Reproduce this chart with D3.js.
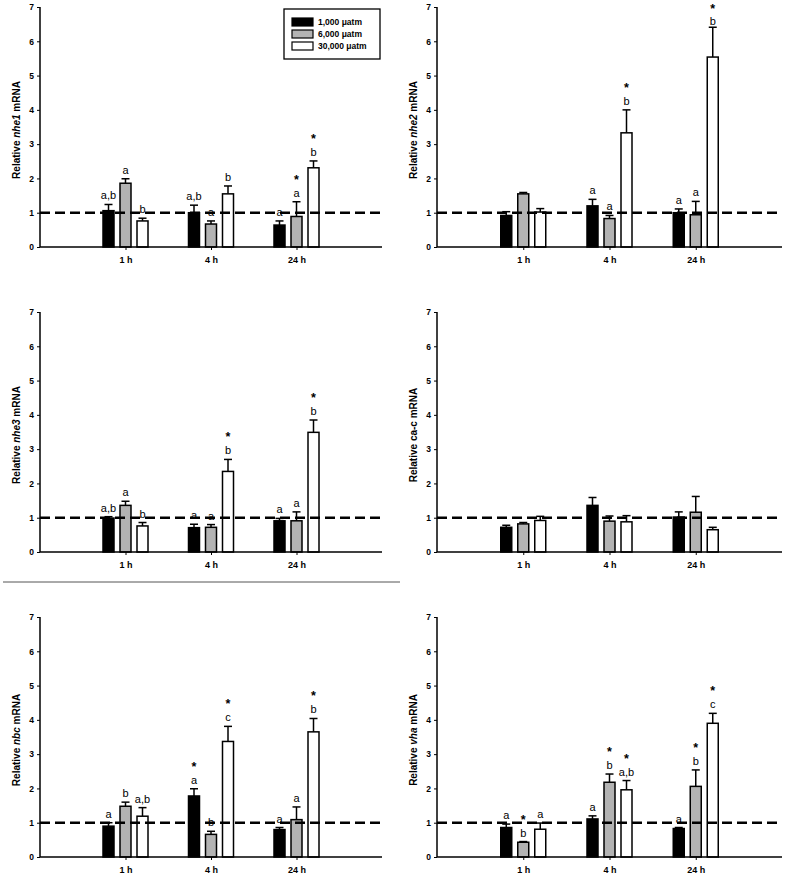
<!DOCTYPE html>
<html>
<head>
<meta charset="utf-8">
<script src="https://cdn.jsdelivr.net/npm/d3@7"></script>
<style>
  html, body { margin: 0; padding: 0; background: #fff; }
  svg { display: block; }
  text { font-family: Arial, "Liberation Sans", sans-serif; fill: #000; }
</style>
</head>
<body>
<svg id="chart" width="787" height="879"></svg>
<script>
// ---------- data ----------
const groups = ["1 h", "4 h", "24 h"];
const series = ["1,000 \u03bcatm", "6,000 \u03bcatm", "30,000 \u03bcatm"];
const yTicks = [0, 1, 2, 3, 4, 5, 6, 7];

// rows = time groups, columns = series
const nhe1Mean = [[1.06, 1.86, 0.76], [1.00, 0.67, 1.55], [0.64, 0.89, 2.31]];
const nhe1Err  = [[0.18, 0.13, 0.08], [0.22, 0.09, 0.23], [0.12, 0.43, 0.20]];
const nhe1Let  = [["a,b", "a", "b"], ["a,b", "a", "b"], ["a", "a", "b"]];
const nhe1Star = [[0, 0, 0], [0, 0, 0], [0, 1, 1]];

const nhe2Mean = [[0.92, 1.55, 1.02], [1.20, 0.83, 3.33], [1.00, 0.94, 5.54]];
const nhe2Err  = [[0.11, 0.04, 0.10], [0.19, 0.09, 0.67], [0.11, 0.39, 0.87]];
const nhe2Let  = [["", "", ""], ["a", "a", "b"], ["a", "a", "b"]];
const nhe2Star = [[0, 0, 0], [0, 0, 1], [0, 0, 1]];

const nhe3Mean = [[0.99, 1.36, 0.76], [0.71, 0.72, 2.35], [0.91, 0.91, 3.49]];
const nhe3Err  = [[0.04, 0.12, 0.10], [0.10, 0.08, 0.35], [0.07, 0.26, 0.36]];
const nhe3Let  = [["a,b", "a", "b"], ["a", "a", "b"], ["a", "a", "b"]];
const nhe3Star = [[0, 0, 0], [0, 0, 1], [0, 0, 1]];

const cacMean = [[0.72, 0.82, 0.92], [1.36, 0.90, 0.88], [1.02, 1.16, 0.65]];
const cacErr  = [[0.06, 0.04, 0.12], [0.23, 0.15, 0.18], [0.15, 0.46, 0.07]];
const cacLet  = [["", "", ""], ["", "", ""], ["", "", ""]];
const cacStar = [[0, 0, 0], [0, 0, 0], [0, 0, 0]];

const nbcMean = [[0.90, 1.48, 1.19], [1.78, 0.66, 3.37], [0.80, 1.09, 3.65]];
const nbcErr  = [[0.10, 0.12, 0.25], [0.21, 0.09, 0.44], [0.06, 0.37, 0.39]];
const nbcLet  = [["a", "b", "a,b"], ["a", "b", "c"], ["a", "a", "b"]];
const nbcStar = [[0, 0, 0], [1, 0, 1], [0, 0, 1]];

const vhaMean = [[0.86, 0.43, 0.81], [1.11, 2.18, 1.96], [0.83, 2.06, 3.90]];
const vhaErr  = [[0.10, 0.02, 0.18], [0.09, 0.24, 0.27], [0.03, 0.48, 0.29]];
const vhaLet  = [["a", "b", "a"], ["a", "b", "a,b"], ["a", "b", "c"]];
const vhaStar = [[0, 1, 0], [0, 1, 1], [0, 1, 1]];

const panels = [
  { gene: "nhe1", italic: true,  mean: nhe1Mean, err: nhe1Err, lets: nhe1Let, stars: nhe1Star, col: 0, row: 0, legend: true },
  { gene: "nhe2", italic: true,  mean: nhe2Mean, err: nhe2Err, lets: nhe2Let, stars: nhe2Star, col: 1, row: 0 },
  { gene: "nhe3", italic: true,  mean: nhe3Mean, err: nhe3Err, lets: nhe3Let, stars: nhe3Star, col: 0, row: 1 },
  { gene: "ca-c", italic: false, mean: cacMean,  err: cacErr,  lets: cacLet,  stars: cacStar,  col: 1, row: 1 },
  { gene: "nbc",  italic: true,  mean: nbcMean,  err: nbcErr,  lets: nbcLet,  stars: nbcStar,  col: 0, row: 2 },
  { gene: "vha",  italic: true,  mean: vhaMean,  err: vhaErr,  lets: vhaLet,  stars: vhaStar,  col: 1, row: 2 }
];

// ---------- layout ----------
const colX = [[40, 382], [437, 782]];
const rowY = [[7, 247], [312, 552], [617, 857]];
const fills = ["#000000", "#b3b3b3", "#ffffff"];
const FONT = "Arial, 'Liberation Sans', sans-serif";

const svg = d3.select("#chart");

const xSeries = d3.scaleBand().domain(series).range([-22.5, 22.5]).paddingInner(6 / 17);

panels.forEach(p => {
  const [x0, x1] = colX[p.col];
  const [yTop, yBot] = rowY[p.row];
  const x = d3.scaleLinear().domain([0, 4]).range([x0, x1]);
  const y = d3.scaleLinear().domain([0, 7]).range([yBot, yTop]);
  const g = svg.append("g");

  const data = [];
  groups.forEach((grp, gi) => {
    series.forEach((s, si) => {
      const d = { gi, si, grp, s, v: p.mean[gi][si], e: p.err[gi][si], l: p.lets[gi][si], st: p.stars[gi][si] };
      const top = y(d.v + d.e);
      d.letY = top - 5;
      d.starY = top - 18;
      if (d.starY < yTop + 5.5) { d.starY = yTop + 5.5; d.letY = top - 2; }
      data.push(d);
    });
  });
  const bx = d => x(d.gi + 1) + xSeries(d.s);
  const cx = d => bx(d) + xSeries.bandwidth() / 2;

  // error bars (upward only)
  g.selectAll(".err").data(data).enter().append("line")
    .attr("x1", cx).attr("x2", cx)
    .attr("y1", d => y(d.v)).attr("y2", d => y(d.v + d.e))
    .attr("stroke", "#000").attr("stroke-width", 1.5);
  g.selectAll(".cap").data(data).enter().append("line")
    .attr("x1", d => cx(d) - 4).attr("x2", d => cx(d) + 4)
    .attr("y1", d => y(d.v + d.e)).attr("y2", d => y(d.v + d.e))
    .attr("stroke", "#000").attr("stroke-width", 1.5);

  // bars
  g.selectAll(".bar").data(data).enter().append("rect")
    .attr("x", bx).attr("width", xSeries.bandwidth())
    .attr("y", d => y(d.v)).attr("height", d => y(0) - y(d.v))
    .attr("fill", d => fills[d.si]).attr("stroke", "#000").attr("stroke-width", 1.5);

  // reference dashed line at 1
  g.append("line")
    .attr("x1", x(0)).attr("x2", x(4)).attr("y1", y(1)).attr("y2", y(1))
    .attr("stroke", "#000").attr("stroke-width", 2.5).attr("stroke-dasharray", "10,5");

  // axes
  const yAxis = d3.axisLeft(y).tickValues(yTicks).tickSize(3).tickPadding(3).tickFormat(d3.format("d"));
  const ya = g.append("g").attr("transform", `translate(${x0},0)`).call(yAxis);
  ya.select(".domain").attr("stroke-width", 1.5).attr("d", `M0,${yTop}V${yBot}`);
  ya.selectAll(".tick line").attr("stroke-width", 1);
  ya.selectAll("text").attr("font-size", 8.5).attr("font-weight", "bold").attr("font-family", FONT);

  const xAxis = d3.axisBottom(x).tickValues([1, 2, 3]).tickSize(3).tickPadding(7).tickFormat(d => groups[d - 1]);
  const xa = g.append("g").attr("transform", `translate(0,${yBot})`).call(xAxis);
  xa.select(".domain").attr("stroke-width", 1.5).attr("d", `M${x0},0H${x1}`);
  xa.selectAll(".tick line").attr("stroke-width", 1);
  xa.selectAll("text").attr("font-size", 9).attr("font-weight", "bold").attr("font-family", FONT);

  // letters and stars
  g.selectAll(".let").data(data.filter(d => d.l)).enter().append("text")
    .attr("x", cx).attr("y", d => d.letY)
    .attr("text-anchor", "middle").attr("font-size", 11).attr("fill", "#000").text(d => d.l);
  g.selectAll(".star").data(data.filter(d => d.st)).enter().append("text")
    .attr("x", cx).attr("y", d => d.starY)
    .attr("text-anchor", "middle").attr("font-size", 12.5).attr("font-weight", "bold").attr("fill", "#000").text("*");

  // y label
  const lbl = g.append("text")
    .attr("transform", `translate(${x0 - 20},${(yTop + yBot) / 2 + 3}) rotate(-90)`)
    .attr("text-anchor", "middle").attr("font-size", 10).attr("font-weight", "bold");
  lbl.append("tspan").text("Relative ");
  lbl.append("tspan").attr("font-style", p.italic ? "italic" : "normal").text(p.gene);
  lbl.append("tspan").text(" mRNA");

  // legend
  if (p.legend) {
    const lg = g.append("g");
    lg.append("rect").attr("x", 284).attr("y", 9).attr("width", 96).attr("height", 50)
      .attr("fill", "#fff").attr("stroke", "#000").attr("stroke-width", 1.3);
    const ly = d3.scalePoint().domain(series).range([22, 46]);
    series.forEach((s, i) => {
      lg.append("rect").attr("x", 292).attr("y", ly(s) - 4).attr("width", 21).attr("height", 8)
        .attr("fill", fills[i]).attr("stroke", "#000").attr("stroke-width", 1.2);
      lg.append("text").attr("x", 318).attr("y", ly(s) + 3.2)
        .attr("font-size", 8.5).attr("font-weight", "bold").text(s);
    });
  }
});

// separator line
svg.append("line").attr("x1", 3).attr("x2", 400).attr("y1", 582).attr("y2", 582)
  .attr("stroke", "#555").attr("stroke-width", 1);
</script>
</body>
</html>
